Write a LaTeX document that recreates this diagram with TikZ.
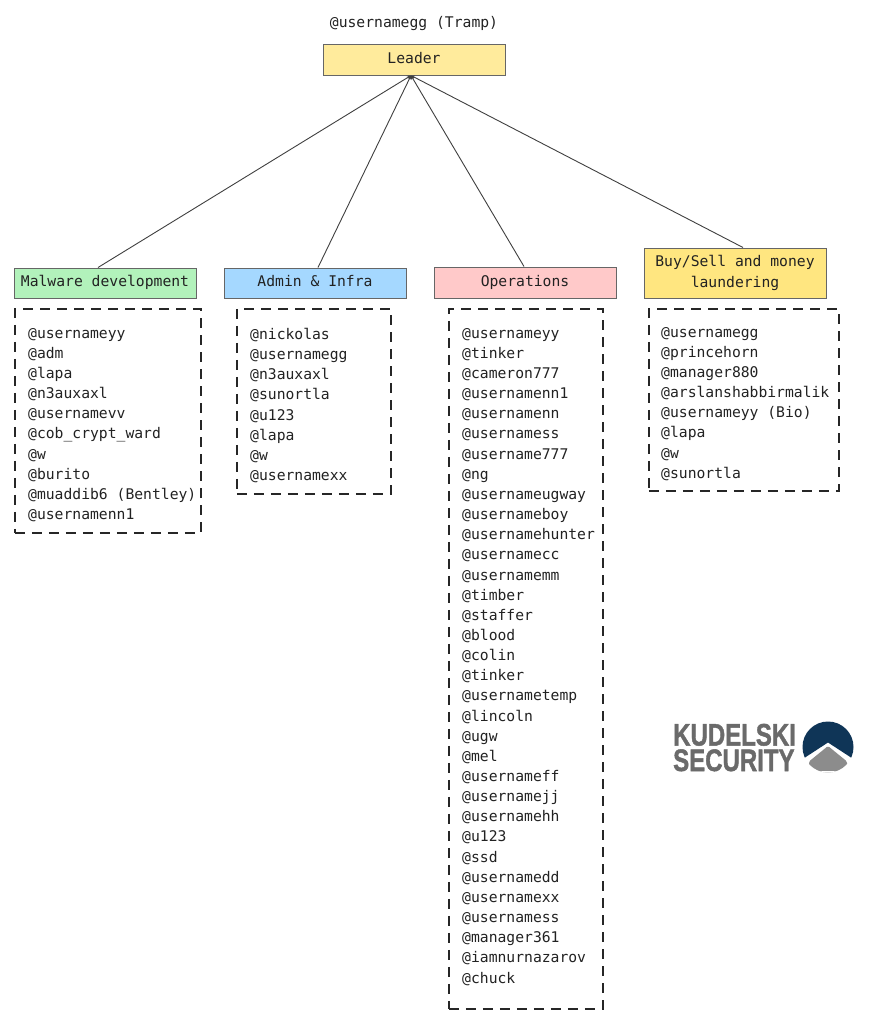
\documentclass[tikz,border=0pt]{standalone}
\usepackage{fontspec}
\setmainfont{DejaVu Sans Mono}
\newfontfamily\logofont{Liberation Sans}[BoldFont={Liberation Sans Bold},BoldFeatures={FakeBold=1.6}]
\definecolor{cLeader}{HTML}{FFEB9C}
\definecolor{cMal}{HTML}{B2F2BB}
\definecolor{cAdm}{HTML}{A5D8FF}
\definecolor{cOps}{HTML}{FFC9C9}
\definecolor{cBuy}{HTML}{FFE680}
\definecolor{cEdge}{HTML}{666666}
\definecolor{cLogoBlue}{HTML}{0F3557}
\definecolor{cLogoGrey}{HTML}{6A6A6A}
\definecolor{cMarkGrey}{HTML}{8C8C8C}
\definecolor{cText}{HTML}{222222}
\usetikzlibrary{arrows.meta}
\tikzset{
  mono/.style={font=\fontsize{14.7}{20.15}\selectfont,text=cText},
  rolebox/.style={mono,draw=cEdge,line width=1pt,minimum width=182pt,inner sep=0pt,align=center},
  oneline/.style={text height=11pt,text depth=4pt},
  listbox/.style={draw=black!85,line width=1.6pt,dash pattern=on 10pt off 7pt,anchor=north west,inner sep=0pt},
  listtext/.style={mono,anchor=north west,inner sep=0pt,align=left},
  link/.style={draw=black!75,line width=0.9pt,-{Stealth[length=4pt,width=4pt]}},
  logotext/.style={inner sep=0pt,text=cLogoGrey,font=\logofont\bfseries\fontsize{32}{32}\selectfont,anchor=base west},
}
\begin{document}
\begin{tikzpicture}[x=1pt,y=-1pt]
\useasboundingbox (0,0) rectangle (868,1023);
\fill[white] (0,0) rectangle (868,1023);

\node[mono,inner sep=0pt] (title) at (414,23.5) {@usernamegg (Tramp)};
\node[rolebox,oneline,fill=cLeader,minimum height=31pt] (leader) at (414,59.5) {Leader};
\node[rolebox,oneline,fill=cMal,minimum height=30pt] (mal) at (105,283) {Malware development};
\node[rolebox,oneline,fill=cAdm,minimum height=30pt] (adm) at (315,283) {Admin \& Infra};
\node[rolebox,oneline,fill=cOps,minimum height=31pt] (ops) at (525,282.5) {Operations};
\node[rolebox,fill=cBuy,minimum height=50pt] (buy) at (735,273) {Buy/Sell and money\\laundering};

\coordinate (hub) at ([xshift=-3pt]leader.south);
\draw[link] ([xshift=-7pt]mal.north) -- (hub);
\draw[link] ([xshift=3pt]adm.north) -- (hub);
\draw[link] ([xshift=-1pt]ops.north) -- (hub);
\draw[link] ([xshift=8pt]buy.north) -- (hub);

\node[listbox,minimum width=186pt,minimum height=224pt] (malbox) at (14,308) {};
\node[listbox,minimum width=154pt,minimum height=185pt] (admbox) at (236,308) {};
\node[listbox,minimum width=154pt,minimum height=700pt] (opsbox) at (448,308) {};
\node[listbox,minimum width=190pt,minimum height=182pt] (buybox) at (648,308) {};

\node[listtext] (mallist) at (28,328) {@usernameyy\\@adm\\@lapa\\@n3auxaxl\\@usernamevv\\@cob\_crypt\_ward\\@w\\@burito\\@muaddib6 (Bentley)\\@usernamenn1};
\node[listtext] (admlist) at (250,328) {@nickolas\\@usernamegg\\@n3auxaxl\\@sunortla\\@u123\\@lapa\\@w\\@usernamexx};
\node[listtext] (opslist) at (462,328) {@usernameyy\\@tinker\\@cameron777\\@usernamenn1\\@usernamenn\\@usernamess\\@username777\\@ng\\@usernameugway\\@usernameboy\\@usernamehunter\\@usernamecc\\@usernamemm\\@timber\\@staffer\\@blood\\@colin\\@tinker\\@usernametemp\\@lincoln\\@ugw\\@mel\\@usernameff\\@usernamejj\\@usernamehh\\@u123\\@ssd\\@usernamedd\\@usernamexx\\@usernamess\\@manager361\\@iamnurnazarov\\@chuck};
\node[listtext] (buylist) at (661,327) {@usernamegg\\@princehorn\\@manager880\\@arslanshabbirmalik\\@usernameyy (Bio)\\@lapa\\@w\\@sunortla};

\node[logotext] (logoa) at (673,745.5) {\scalebox{.75}[.97]{KUDELSKI}};
\node[logotext] (logob) at (673,771) {\scalebox{.75}[.97]{SECURITY}};
\begin{scope}
  \clip (828,747) circle[radius=25.5];
  \fill[cLogoBlue] (828,742.5) -- (805,757.5) -- (795,757.5) -- (795,715) -- (860,715) -- (860,757.5) -- (851,757.5) -- cycle;
  \fill[cMarkGrey,rounded corners=1.5pt] (828,746) -- (809,761.5) -- (809,780) -- (847,780) -- (847,761.5) -- cycle;
  \fill[white] (795,771) rectangle (860,780);
\end{scope}
\end{tikzpicture}
\end{document}
